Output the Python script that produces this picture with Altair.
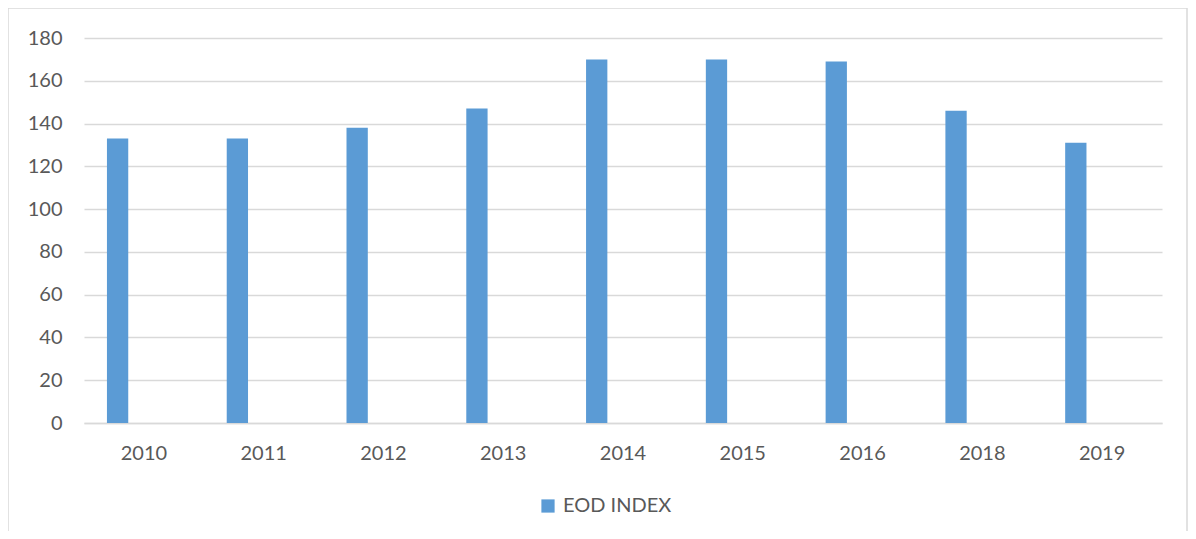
import altair as alt
import pandas as pd

years = ["2010", "2011", "2012", "2013", "2014", "2015", "2016", "2018", "2019"]
eod_index = [133, 133, 138, 147, 170, 170, 169, 146, 131]
series_name = "EOD INDEX"
y_ticks = [0, 20, 40, 60, 80, 100, 120, 140, 160, 180]

df = pd.DataFrame({"year": years, "value": eod_index, "series": [series_name] * len(years)})

W, H = 1078, 385
FONT = "Lato"
TXT = "#595959"
GRID = "#d9d9d9"
BAR = "#5b9bd5"

bars = alt.Chart(df).mark_bar(color=BAR).encode(
    x=alt.X("year:N", sort=years,
            scale=alt.Scale(paddingInner=0, paddingOuter=0),
            axis=alt.Axis(title=None, labelAngle=0, ticks=False, domain=True,
                          domainColor=GRID, domainWidth=1.3, grid=False,
                          labelFont=FONT, labelFontSize=20, labelColor=TXT,
                          labelPadding=20)),
    xOffset=alt.XOffset("series:N",
                        scale=alt.Scale(domain=[series_name, "_b", "_c"],
                                        paddingInner=0.19, paddingOuter=0.873)),
    y=alt.Y("value:Q",
            scale=alt.Scale(domain=[0, 180], nice=False),
            axis=alt.Axis(title=None, values=y_ticks, ticks=False, domain=False,
                          grid=True, gridColor=GRID, gridWidth=1.3,
                          labelFont=FONT, labelFontSize=20, labelColor=TXT,
                          labelPadding=22)),
    color=alt.Color("series:N",
                    scale=alt.Scale(domain=[series_name], range=[BAR]),
                    legend=alt.Legend(title=None, orient="none", legendX=454, legendY=458,
                                      symbolType="square", symbolSize=175,
                                      symbolStrokeWidth=0, labelFont=FONT,
                                      labelFontSize=20, labelColor=TXT,
                                      labelOffset=5)),
)

border = alt.Chart(pd.DataFrame({"a": [0]})).mark_rect(
    fill=None, stroke=GRID, strokeWidth=1.5, clip=False
).encode(
    x=alt.value(-76), x2=alt.value(W + 25),
    y=alt.value(-30), y2=alt.value(H + 140),
)

chart = alt.layer(border, bars).properties(
    width=W, height=H,
    background="white",
    autosize=alt.AutoSizeParams(type="none"),
    padding={"left": 76, "top": 30, "right": 26, "bottom": 108},
).configure_view(stroke="transparent", strokeWidth=0)

chart.save("out.html", embed_options={"renderer": "svg", "actions": False})
